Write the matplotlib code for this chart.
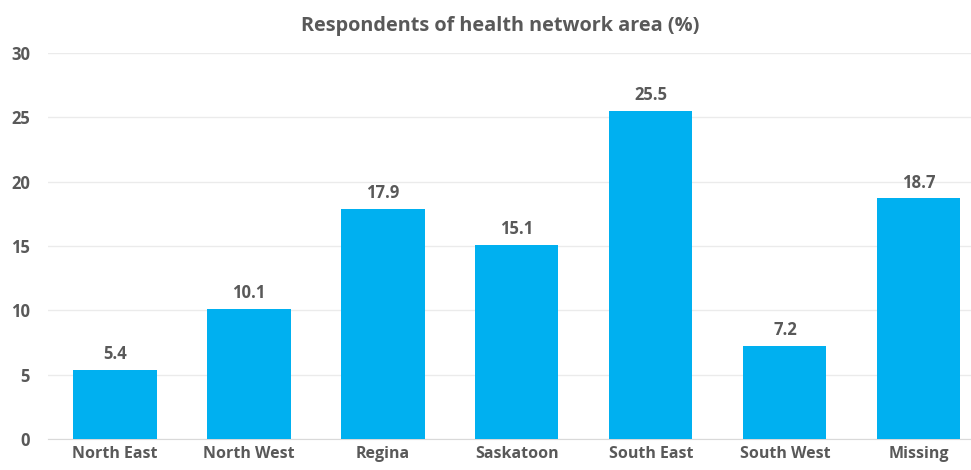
import matplotlib.pyplot as plt
from matplotlib import font_manager
import numpy as np

# Respondents by health network area (%)
areas = ["North East", "North West", "Regina", "Saskatoon",
         "South East", "South West", "Missing"]
pct = [5.4, 10.1, 17.9, 15.1, 25.5, 7.2, 18.7]

# regular-width bold Open Sans
bold_path = None
for f in font_manager.fontManager.ttflist:
    if f.name == 'Open Sans' and f.weight == 700 and f.style == 'normal' \
            and 'condensed' not in f.fname.lower():
        bold_path = f.fname

grey = '#595959'

def fp(size):
    if bold_path:
        return font_manager.FontProperties(fname=bold_path, size=size)
    return font_manager.FontProperties(family='DejaVu Sans', weight='bold', size=size)

fig = plt.figure(figsize=(9.71, 4.70), dpi=100)
ax = fig.add_axes([0.0494, 0.066, 0.966, 0.821])

x = np.arange(len(areas))
bars = ax.bar(x, pct, 0.62, color='#00B0F0', zorder=3)
ax.bar_label(bars, labels=[f"{v:.1f}" for v in pct], padding=5,
             fontproperties=fp(12), color=grey)

ax.set_xlim(-0.5, len(areas) - 0.5)
ax.set_ylim(0, 30)
ax.set_yticks(range(0, 31, 5))
ax.set_xticks(x, areas)

ax.grid(axis='y', color='#EBEBEB', linewidth=1, zorder=0)
for side in ['top', 'right', 'left']:
    ax.spines[side].set_visible(False)
ax.spines['bottom'].set_color('#D9D9D9')
ax.tick_params(axis='both', length=0, labelcolor=grey)
ax.tick_params(axis='x', pad=5)
ax.tick_params(axis='y', pad=13)
for lbl in ax.get_xticklabels():
    lbl.set_fontproperties(fp(11.5))
for lbl in ax.get_yticklabels():
    lbl.set_fontproperties(fp(12))

fig.text(0.515, 0.945, "Respondents of health network area (%)", ha='center',
         va='center', fontproperties=fp(14.3), color=grey)

fig.savefig('out.png', dpi=100)
